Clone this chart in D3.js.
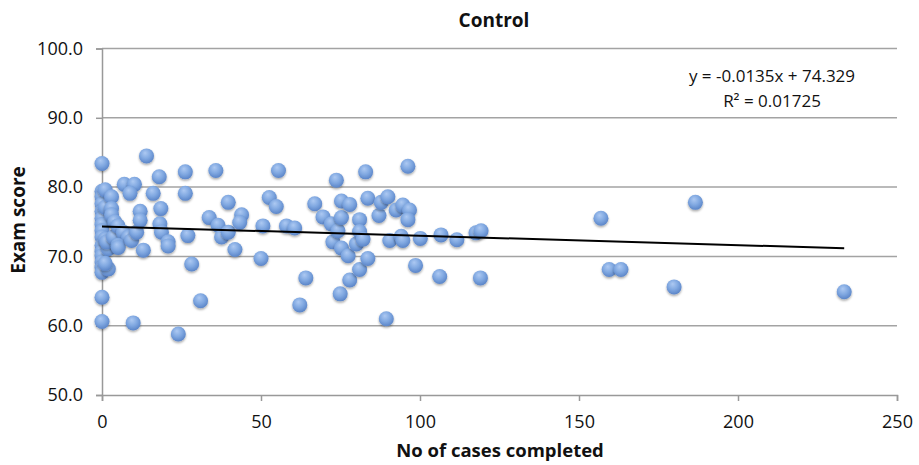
<!DOCTYPE html>
<html><head><meta charset="utf-8">
<script src="https://cdn.jsdelivr.net/npm/d3@7"></script>
<style>
html,body{margin:0;padding:0;background:#fff;}
svg{display:block;}
text{font-family:"Open Sans","Liberation Sans",sans-serif;}
</style></head>
<body>
<svg id="chart" width="919" height="465"></svg>
<script>
const title = "Control";
const xLabel = "No of cases completed";
const yLabel = "Exam score";
const xTicks = [0, 50, 100, 150, 200, 250];
const yTicks = [50, 60, 70, 80, 90, 100];
const trendSlope = -0.0135;
const trendIntercept = 74.329;
const equationLines = ["y = -0.0135x + 74.329", "R² = 0.01725"];

const casesCompleted = [
  0,0,0,0,0,0,0,0,0,0,0,0,0,0,0,0,0,
  1,1,1,2,2,3,3,3,1.5,3.6,1,4,
  5,6.7,8.3,5,5.1,7,10.2,8.8,9.8,9.3,10.9,
  12,12,13,14,16.1,18,18.5,18.2,18.7,20.8,20.8,
  24,26.2,26.2,27,28.2,31,33.7,35.8,
  36.5,37.6,39.7,39.7,41.8,43.9,43.3,50,50.6,
  52.6,54.8,55.5,58,60.6,62.2,64.1,
  66.9,69.5,72.1,72.6,73.7,74.2,74.9,75.3,75.3,75.3,77.4,77.9,77.9,80,81,81,81,
  82.1,82.9,83.6,83.6,87.1,87.8,89.9,89.4,90.5,92.5,94.1,94.6,94.6,96.2,96.7,96.2,98.6,100.1,
  106.6,106.2,111.6,117.6,119.2,119,156.9,159.5,163.2,179.9,186.6,233.4
];
const examScore = [
  83.4,79.4,78.6,77.6,76.5,75.5,74.6,73.7,72.8,71.6,70.7,70.1,69.2,68.4,67.7,64.1,60.6,
  79.6,77.1,72.5,71.1,68.2,78.6,76.9,76.0,72.1,72.8,69.0,75.0,
  74.4,73.5,72.8,71.6,71.3,80.4,80.4,79.1,60.4,72.3,73.5,
  76.5,75.2,70.9,84.5,79.1,81.5,76.9,74.7,73.5,72.1,71.5,
  58.8,82.2,79.1,73.0,68.9,63.6,75.6,82.4,
  74.5,72.8,73.5,77.8,71.0,76.0,74.9,69.7,74.4,
  78.5,77.2,82.4,74.4,74.1,63.0,66.9,
  77.6,75.7,74.7,72.1,81.0,73.7,64.6,78.0,75.6,71.2,70.1,77.5,66.6,71.8,75.3,73.6,68.1,
  72.5,82.2,78.4,69.7,75.9,77.8,78.6,61.0,72.3,76.7,72.9,72.3,77.4,83.0,76.7,75.3,68.7,72.6,
  73.1,67.1,72.4,73.4,73.7,66.9,75.5,68.1,68.1,65.6,77.8,64.9
];

const W = 919, H = 465;
const M = {left: 102, top: 48.5, right: 22, bottom: 70};
const svg = d3.select("#chart");

const defs = svg.append("defs");
const grad = defs.append("radialGradient").attr("id", "ball")
  .attr("cx", "45%").attr("cy", "38%").attr("r", "62%").attr("fx", "40%").attr("fy", "30%");
grad.append("stop").attr("offset", "0%").attr("stop-color", "#adc9f2");
grad.append("stop").attr("offset", "55%").attr("stop-color", "#80a8e1");
grad.append("stop").attr("offset", "100%").attr("stop-color", "#5b85c8");
const filt = defs.append("filter").attr("id", "shadow").attr("x", "-50%").attr("y", "-50%").attr("width", "200%").attr("height", "200%");
filt.append("feDropShadow").attr("dx", 0).attr("dy", 1.5).attr("stdDeviation", 1.2)
  .attr("flood-color", "#000").attr("flood-opacity", 0.35);

const x = d3.scaleLinear().domain([0, 250]).range([M.left, W - M.right]);
const y = d3.scaleLinear().domain([50, 100]).range([H - M.bottom, M.top]);

// gridlines
svg.append("g").selectAll("line").data(yTicks.filter(d => d > 50)).join("line")
  .attr("x1", x(0)).attr("x2", x(250)).attr("y1", d => y(d)).attr("y2", d => y(d))
  .attr("stroke", "#a3a3a3").attr("stroke-width", 1.5);

// y axis
const yAxis = svg.append("g").attr("transform", `translate(${M.left},0)`)
  .call(d3.axisLeft(y).tickValues(yTicks).tickFormat(d3.format(".1f")).tickSize(6).tickPadding(13));
yAxis.select(".domain").attr("stroke", "#999").attr("stroke-width", 1.5);
yAxis.selectAll(".tick line").attr("stroke", "#999").attr("stroke-width", 1.5);
yAxis.selectAll("text").attr("font-size", 18).attr("fill", "#111");

// x axis
const xAxis = svg.append("g").attr("transform", `translate(0,${H - M.bottom})`)
  .call(d3.axisBottom(x).tickValues(xTicks).tickFormat(d3.format("d")).tickSize(6).tickPadding(14));
xAxis.select(".domain").attr("stroke", "#999").attr("stroke-width", 1.5);
xAxis.selectAll(".tick line").attr("stroke", "#999").attr("stroke-width", 1.5);
xAxis.selectAll("text").attr("font-size", 18).attr("fill", "#111");

// points
const pts = casesCompleted.map((v, i) => ({x: v, y: examScore[i]}));
svg.append("g").selectAll("circle").data(pts).join("circle")
  .attr("cx", d => x(d.x)).attr("cy", d => y(d.y)).attr("r", 7.5)
  .attr("fill", "url(#ball)").attr("filter", "url(#shadow)");

// trend line
const xMax = d3.max(casesCompleted);
svg.append("line")
  .attr("x1", x(0)).attr("y1", y(trendIntercept))
  .attr("x2", x(xMax)).attr("y2", y(trendIntercept + trendSlope * xMax))
  .attr("stroke", "#000").attr("stroke-width", 2);

// equation
svg.append("text").attr("x", 772).attr("y", 82).attr("text-anchor", "middle")
  .attr("font-size", 17).attr("fill", "#111").text(equationLines[0]);
svg.append("text").attr("x", 772).attr("y", 107).attr("text-anchor", "middle")
  .attr("font-size", 17).attr("fill", "#111").text(equationLines[1]);

// title and labels
svg.append("text").attr("x", 494).attr("y", 27).attr("text-anchor", "middle")
  .attr("font-size", 19).attr("font-weight", "bold").attr("fill", "#111").text(title);
svg.append("text").attr("x", 500).attr("y", 457).attr("text-anchor", "middle")
  .attr("font-size", 18.5).attr("font-weight", "bold").attr("fill", "#111").text(xLabel);
svg.append("text").attr("transform", "translate(25,220) rotate(-90)").attr("text-anchor", "middle")
  .attr("font-size", 19).attr("font-weight", "bold").attr("fill", "#111").text(yLabel);
</script>
</body></html>
